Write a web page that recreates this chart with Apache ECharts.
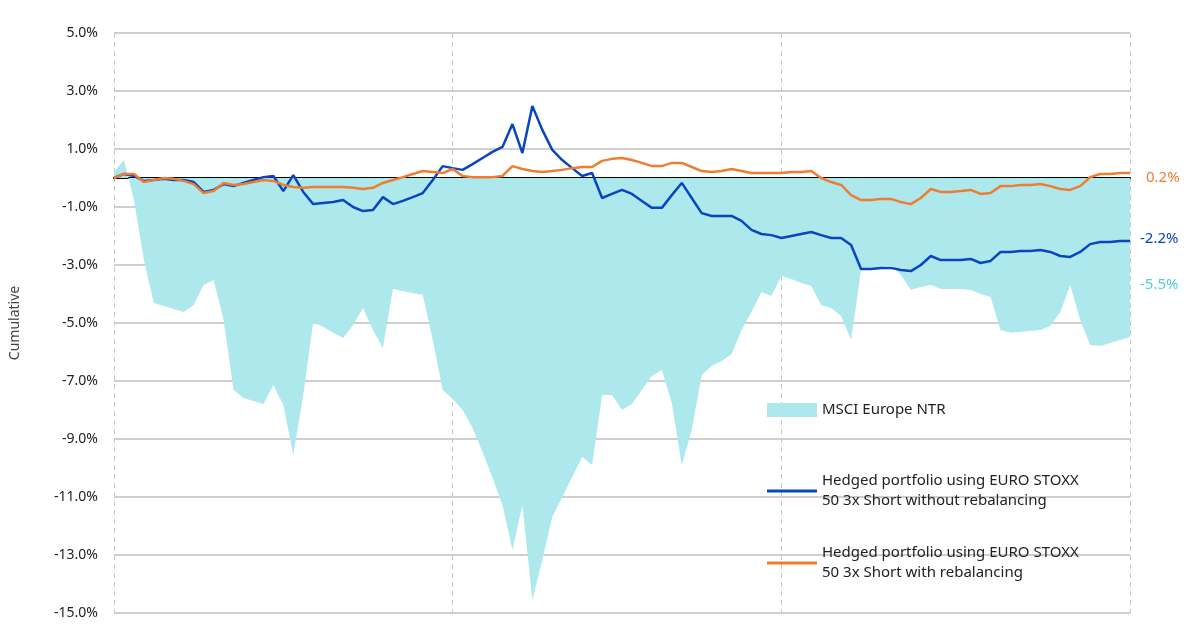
<!DOCTYPE html>
<html>
<head>
<meta charset="utf-8">
<script src="https://cdn.jsdelivr.net/npm/echarts@6/dist/echarts.min.js"></script>
<style>html,body{margin:0;padding:0;background:#fff}#main{width:1200px;height:639px}</style>
</head>
<body>
<div id="main"></div>
<script>
// cumulative returns in %, one point per period
var msci = [0.21,0.62,-0.76,-2.83,-4.31,-4.41,-4.52,-4.62,-4.38,-3.69,
    -3.52,-4.90,-7.31,-7.59,-7.69,-7.79,-7.14,-7.83,-9.55,-7.48,
    -4.97,-5.14,-5.34,-5.52,-5.07,-4.48,-5.24,-5.86,-3.83,-3.90,
    -3.97,-4.03,-5.59,-7.31,-7.62,-8.00,-8.62,-9.45,-10.34,-11.28,
    -12.83,-11.28,-14.55,-13.17,-11.69,-11.00,-10.31,-9.62,-9.90,-7.48,
    -7.48,-8.00,-7.79,-7.31,-6.83,-6.62,-7.76,-9.90,-8.69,-6.79,
    -6.48,-6.31,-6.07,-5.24,-4.62,-3.93,-4.07,-3.38,-3.48,-3.62,
    -3.72,-4.38,-4.48,-4.76,-5.59,-3.17,-3.14,-3.07,-3.00,-3.34,
    -3.86,-3.76,-3.69,-3.83,-3.83,-3.83,-3.86,-4.00,-4.10,-5.24,
    -5.34,-5.31,-5.28,-5.24,-5.10,-4.62,-3.69,-4.90,-5.76,-5.79,
    -5.69,-5.59,-5.48];
var noRebal = [0,0.14,0.07,-0.10,-0.07,-0.03,-0.07,-0.07,-0.14,-0.48,
    -0.41,-0.21,-0.28,-0.17,-0.07,0.03,0.07,-0.45,0.10,-0.48,
    -0.90,-0.86,-0.83,-0.76,-1.00,-1.14,-1.10,-0.66,-0.90,-0.79,
    -0.66,-0.52,-0.07,0.41,0.34,0.28,0.48,0.69,0.90,1.07,
    1.86,0.86,2.48,1.66,0.97,0.62,0.34,0.07,0.17,-0.69,
    -0.55,-0.41,-0.55,-0.79,-1.03,-1.03,-0.59,-0.17,-0.69,-1.21,
    -1.31,-1.31,-1.31,-1.48,-1.79,-1.93,-1.97,-2.07,-2.00,-1.93,
    -1.86,-1.97,-2.07,-2.07,-2.31,-3.14,-3.14,-3.10,-3.10,-3.17,
    -3.21,-3.00,-2.69,-2.83,-2.83,-2.83,-2.79,-2.93,-2.86,-2.55,
    -2.55,-2.52,-2.52,-2.48,-2.55,-2.69,-2.72,-2.55,-2.28,-2.21,
    -2.21,-2.17,-2.17];
var withRebal = [0,0.14,0.14,-0.14,-0.07,0,-0.03,-0.10,-0.21,-0.52,
    -0.45,-0.17,-0.24,-0.21,-0.14,-0.07,-0.10,-0.24,-0.31,-0.34,
    -0.31,-0.31,-0.31,-0.31,-0.34,-0.38,-0.34,-0.17,-0.07,0.03,
    0.14,0.24,0.21,0.17,0.31,0.07,0.03,0.03,0.03,0.07,
    0.41,0.31,0.24,0.21,0.24,0.28,0.34,0.38,0.38,0.59,
    0.66,0.69,0.62,0.52,0.41,0.41,0.52,0.52,0.38,0.24,
    0.21,0.24,0.31,0.24,0.17,0.17,0.17,0.17,0.21,0.21,
    0.24,0,-0.14,-0.24,-0.59,-0.76,-0.76,-0.72,-0.72,-0.83,
    -0.90,-0.69,-0.38,-0.48,-0.48,-0.45,-0.41,-0.55,-0.52,-0.28,
    -0.28,-0.24,-0.24,-0.21,-0.28,-0.38,-0.41,-0.28,0.03,0.14,
    0.14,0.17,0.17];
var yearStarts = [0, 34, 67, 102];
var periods = [];
for (var i = 0; i < msci.length; i++) periods.push(i);

var nameMsci = 'MSCI Europe NTR';
var nameNo = 'Hedged portfolio using EURO STOXX 50 3x Short without rebalancing';
var nameWith = 'Hedged portfolio using EURO STOXX 50 3x Short with rebalancing';
var font = 'Noto Sans';

var myChart = echarts.init(document.getElementById('main'));

var legendBase = function (name, top, icon, h) {
    return {
        data: [name], left: 762, top: top, orient: 'vertical',
        icon: icon, itemWidth: 50, itemHeight: h, itemGap: 0,
        textStyle: { color: '#222', fontSize: 15, fontFamily: font, lineHeight: 20 },
        formatter: function (n) {
            return n.replace(' EURO STOXX 50', ' EURO STOXX\n50');
        }
    };
};

option = {
    animation: false,
    textStyle: { fontFamily: font },
    grid: { left: 112, right: 70, top: 33, bottom: 26 },
    legend: [
        legendBase(nameMsci, 395, 'rect', 14),
        legendBase(nameNo, 466, 'rect', 3),
        legendBase(nameWith, 538, 'rect', 3)
    ],
    xAxis: {
        type: 'category', data: periods, boundaryGap: false,
        axisLine: { onZero: true, lineStyle: { color: '#000', width: 1.8 } },
        axisTick: { show: false }, axisLabel: { show: false },
        splitLine: {
            show: true,
            interval: function (idx) { return yearStarts.indexOf(idx) >= 0; },
            lineStyle: { color: '#c8c8c8', type: [5, 4] }
        }
    },
    yAxis: {
        type: 'value', min: -15, max: 5, interval: 2,
        name: 'Cumulative', nameLocation: 'middle', nameGap: 92, nameRotate: 90,
        nameTextStyle: { color: '#444', fontSize: 14, fontFamily: font },
        axisLine: { show: false }, axisTick: { show: false },
        axisLabel: {
            color: '#222', fontSize: 14, margin: 16,
            formatter: function (v) { return v.toFixed(1) + '%'; }
        },
        splitLine: { lineStyle: { color: '#bfbfbf', width: 1.5 } }
    },
    series: [
        {
            name: nameMsci, type: 'line', data: msci, showSymbol: false,
            itemStyle: { color: '#ade9ec' },
            lineStyle: { width: 0 },
            areaStyle: { color: '#ade9ec', opacity: 1, origin: 0 },
            z: 1
        },
        {
            name: nameNo, type: 'line', data: noRebal, showSymbol: false,
            itemStyle: { color: '#0a45c0' }, lineStyle: { width: 2.5, color: '#0a45c0' }, z: 3
        },
        {
            name: nameWith, type: 'line', data: withRebal, showSymbol: false,
            itemStyle: { color: '#ef7d31' }, lineStyle: { width: 2.5, color: '#ef7d31' }, z: 4
        }
    ],
    graphic: [
        { type: 'text', left: 1146, top: 170, style: { text: '0.2%', fill: '#ef7d31', font: '15px "Noto Sans"' } },
        { type: 'text', left: 1140, top: 231, style: { text: '-2.2%', fill: '#0a45c0', font: '15px "Noto Sans"' } },
        { type: 'text', left: 1140, top: 277, style: { text: '-5.5%', fill: '#4fd0d6', font: '15px "Noto Sans"' } }
    ]
};

myChart.setOption(option);
</script>
</body>
</html>
